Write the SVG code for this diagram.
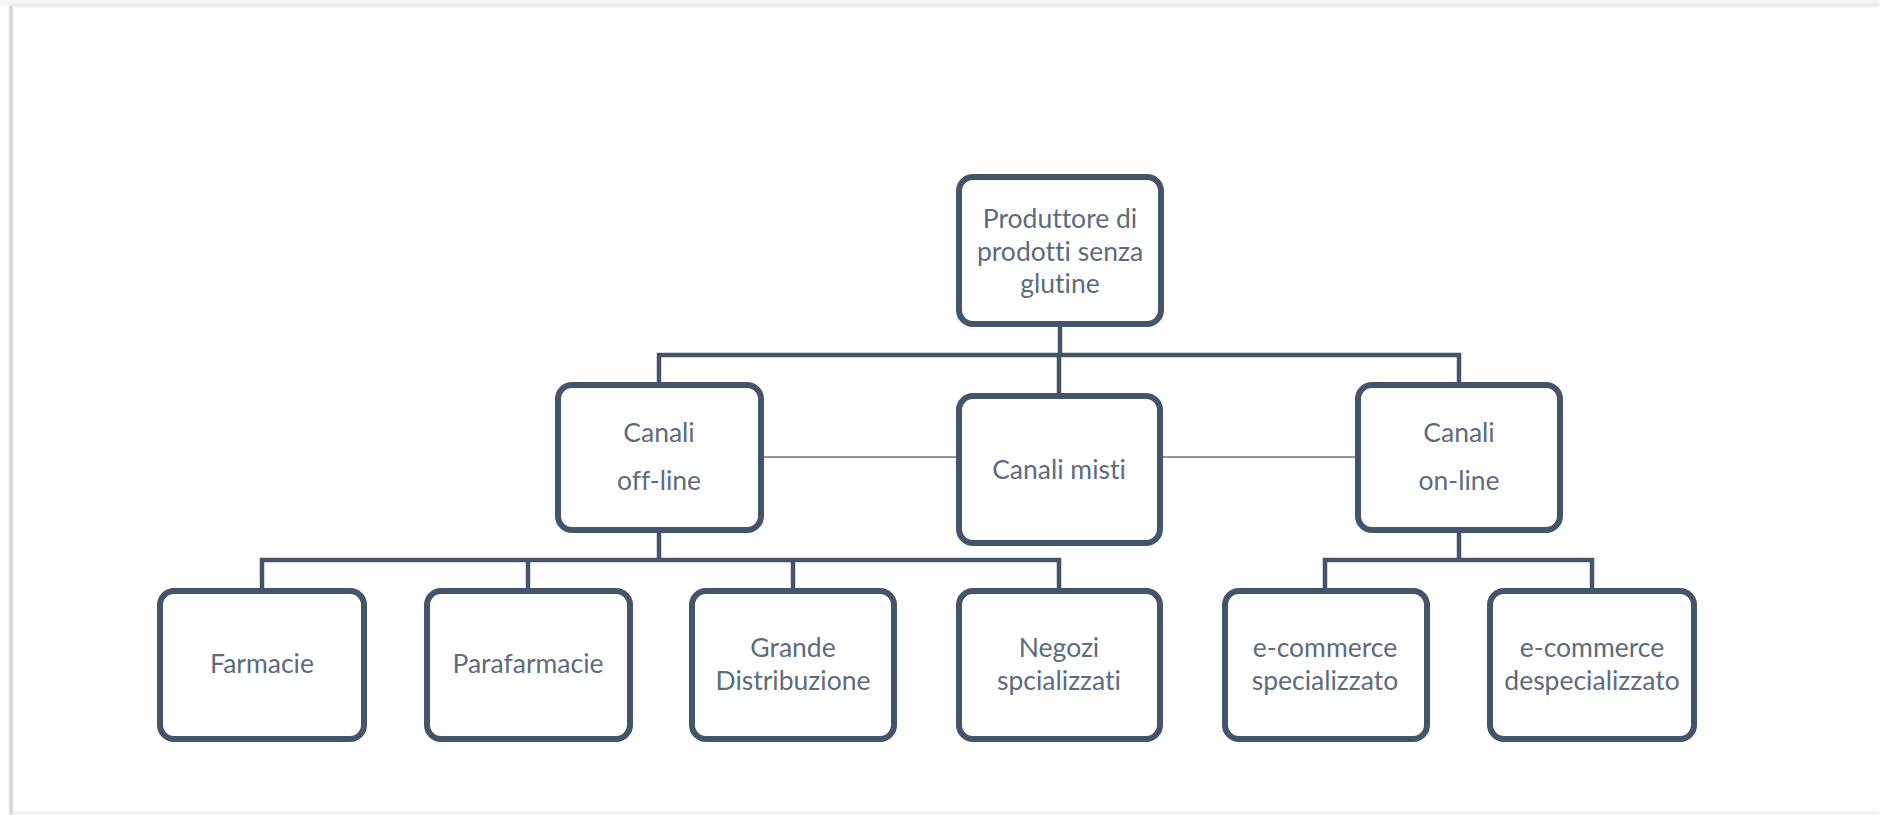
<svg xmlns="http://www.w3.org/2000/svg" width="1880" height="815" viewBox="0 0 1880 815">
  <defs>
    <style>
      .box { fill: #ffffff; stroke: #44546a; stroke-width: 6; }
      .bus { stroke: #44546a; stroke-width: 4.5; fill: none; stroke-linecap: square; }
      .thin { stroke: #8a97a8; stroke-width: 2; fill: none; }
      .lbl { font-family: Lato, "Liberation Sans", sans-serif; font-size: 26.5px; fill: #5d6b7e; text-anchor: middle; font-variant-ligatures: none; }
    </style>
    <filter id="soft" x="-50%" y="-50%" width="200%" height="200%">
      <feGaussianBlur stdDeviation="1.2"/>
    </filter>
  </defs>

  <!-- page background and edges -->
  <rect x="0" y="0" width="1880" height="815" fill="#ffffff"/>
  <rect x="0" y="0" width="1880" height="5" fill="#f5f5f5"/>
  <g filter="url(#soft)">
    <line x1="11" y1="5" x2="11" y2="815" stroke="#bdbdbd" stroke-width="2.5"/>
    <line x1="11" y1="5.5" x2="1880" y2="5.5" stroke="#e2e2e2" stroke-width="2"/>
    <line x1="11" y1="813" x2="1880" y2="813" stroke="#e6e6e6" stroke-width="2"/>
  </g>

  <!-- connectors -->
  <g id="connectors">
    <path class="bus" d="M1060 327 V355 M659 355 H1459 M659 355 V385 M1059 355 V396 M1459 355 V385"/>
    <path class="bus" d="M659 533 V560 M262 560 H1059 M262 560 V591 M528 560 V591 M793 560 V591 M1059 560 V591"/>
    <path class="bus" d="M1459 533 V560 M1325 560 H1592 M1325 560 V591 M1592 560 V591"/>
    <line class="thin" x1="764" y1="457" x2="956" y2="457"/>
    <line class="thin" x1="1163" y1="457" x2="1355" y2="457"/>
  </g>

  <!-- top level -->
  <g id="produttore">
    <rect class="box" x="959" y="177" width="202" height="147" rx="14"/>
    <text class="lbl" x="1060" y="228">Produttore di</text>
    <text class="lbl" x="1060" y="261">prodotti senza</text>
    <text class="lbl" x="1060" y="293">glutine</text>
  </g>

  <!-- channel level -->
  <g id="canali-offline">
    <rect class="box" x="558" y="385" width="203" height="145" rx="14"/>
    <text class="lbl" x="659" y="442">Canali</text>
    <text class="lbl" x="659" y="490">off-line</text>
  </g>
  <g id="canali-misti">
    <rect class="box" x="959" y="396" width="201" height="147" rx="14"/>
    <text class="lbl" x="1059" y="479">Canali misti</text>
  </g>
  <g id="canali-online">
    <rect class="box" x="1358" y="385" width="202" height="145" rx="14"/>
    <text class="lbl" x="1459" y="442">Canali</text>
    <text class="lbl" x="1459" y="490">on-line</text>
  </g>

  <!-- outlets -->
  <g id="farmacie">
    <rect class="box" x="160" y="591" width="204" height="148" rx="14"/>
    <text class="lbl" x="262" y="673">Farmacie</text>
  </g>
  <g id="parafarmacie">
    <rect class="box" x="427" y="591" width="203" height="148" rx="14"/>
    <text class="lbl" x="528" y="673">Parafarmacie</text>
  </g>
  <g id="grande-distribuzione">
    <rect class="box" x="692" y="591" width="202" height="148" rx="14"/>
    <text class="lbl" x="793" y="657">Grande</text>
    <text class="lbl" x="793" y="690">Distribuzione</text>
  </g>
  <g id="negozi">
    <rect class="box" x="959" y="591" width="201" height="148" rx="14"/>
    <text class="lbl" x="1059" y="657">Negozi</text>
    <text class="lbl" x="1059" y="690">spcializzati</text>
  </g>
  <g id="ecommerce-specializzato">
    <rect class="box" x="1225" y="591" width="202" height="148" rx="14"/>
    <text class="lbl" x="1325" y="657">e-commerce</text>
    <text class="lbl" x="1325" y="690">specializzato</text>
  </g>
  <g id="ecommerce-despecializzato">
    <rect class="box" x="1490" y="591" width="204" height="148" rx="14"/>
    <text class="lbl" x="1592" y="657">e-commerce</text>
    <text class="lbl" x="1592" y="690">despecializzato</text>
  </g>
</svg>
